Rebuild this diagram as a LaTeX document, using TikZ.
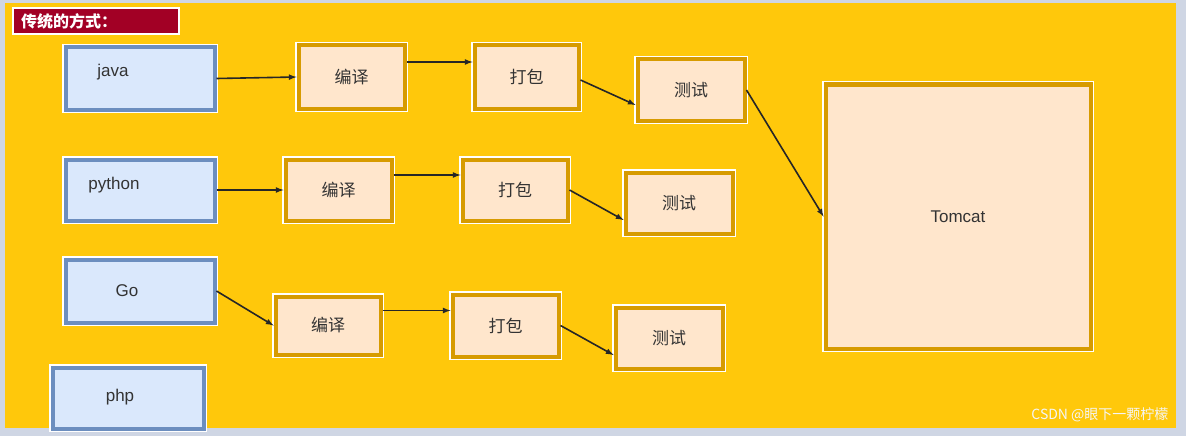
\documentclass[tikz,border=0pt]{standalone}
\usepackage{fontspec}
\setmainfont{Liberation Sans}
\newfontfamily\cjk{Noto Sans CJK SC}
\begin{document}
\begin{tikzpicture}[x=1pt,y=-1pt,
  bx/.style={preaction={draw=white,line width=7pt},line width=4pt,inner sep=0pt,font=\cjk\fontsize{17}{20}\selectfont,text=black!80},
  blue/.style={bx,draw=blue!25!gray!70!cyan!60!white,fill=blue!10!white},
  org/.style={bx,draw=orange!80!yellow!85!black,fill=orange!18!white},
  lbl/.style={font=\fontsize{17}{20}\selectfont,text=black!80},
  arr/.style={-latex,line width=1.6pt,black!85}]
\definecolor{bg}{HTML}{CFD6E4}
\definecolor{yel}{HTML}{FFC80B}
\definecolor{bl}{HTML}{6C8EBF}
\definecolor{blf}{HTML}{DAE8FC}
\definecolor{or}{HTML}{D79B00}
\definecolor{orf}{HTML}{FFE6CC}
\definecolor{red}{HTML}{A20025}
\tikzset{blue/.style={bx,draw=bl,fill=blf},org/.style={bx,draw=or,fill=orf}}
\useasboundingbox (0,0) rectangle (1186,436);
\fill[bg] (0,0) rectangle (1186,436);
\fill[yel] (5,3) rectangle (1176,428);
\node[draw=white,line width=1.5pt,fill=red,minimum width=166pt,minimum height=26pt,inner sep=0pt,text=white,font=\cjk\bfseries\fontsize{16}{18}\selectfont,text width=150pt,align=left] (title) at (96,21) {传统的方式：};
% language boxes
\node[blue,minimum width=149pt,minimum height=62pt] (java) at (140,78.5) {};
\node[lbl] (tj) at (113,72) {java};
\node[blue,minimum width=149pt,minimum height=61pt] (py) at (140,190) {};
\node[lbl] (tp) at (114,185) {python};
\node[blue,minimum width=149pt,minimum height=63pt] (go) at (140,291) {};
\node[lbl] (tg) at (127,291) {Go};
\node[blue,minimum width=151pt,minimum height=61pt] (php) at (128,398) {};
\node[lbl] (tphp) at (120,397) {php};
% row 1
\node[org,minimum width=106pt,minimum height=63pt] (c1) at (351.5,77) {编译};
\node[org,minimum width=104pt,minimum height=63pt] (p1) at (526.5,77) {打包};
\node[org,minimum width=107pt,minimum height=61pt] (t1) at (691,90) {测试};
% row 2
\node[org,minimum width=106pt,minimum height=61pt] (c2) at (338.5,190) {编译};
\node[org,minimum width=105pt,minimum height=61pt] (p2) at (515,190) {打包};
\node[org,minimum width=107pt,minimum height=61pt] (t2) at (679,203) {测试};
% row 3
\node[org,minimum width=105pt,minimum height=58pt] (c3) at (328,325.5) {编译};
\node[org,minimum width=106pt,minimum height=62pt] (p3) at (505.5,325.5) {打包};
\node[org,minimum width=107pt,minimum height=61pt] (t3) at (669,338) {测试};
% tomcat
\node[org,minimum width=265pt,minimum height=264pt,font=\fontsize{17}{20}\selectfont] (tom) at (958,216.5) {Tomcat};
% arrows
\draw[arr] (java.east) -- (c1.west);
\draw[arr] ([yshift=15pt]c1.east) -- ([yshift=15pt]p1.west);
\draw[arr] ([yshift=-3pt]p1.east) -- ([yshift=-15pt]t1.west);
\draw[arr] (t1.east) -- (tom.west);
\draw[arr] (py.east) -- (c2.west);
\draw[arr] ([yshift=15pt]c2.east) -- ([yshift=15pt]p2.west);
\draw[arr] (p2.east) -- ([yshift=-17pt]t2.west);
\draw[arr] (go.east) -- (c3.west);
\draw[arr] ([yshift=15pt]c3.east) -- ([yshift=15pt]p3.west);
\draw[arr] (p3.east) -- ([yshift=-17pt]t3.west);
\node[font=\cjk\fontsize{14}{16}\selectfont,text=white!92!gray,anchor=east] (wm) at (1172,415) {CSDN @眼下一颗柠檬};
\end{tikzpicture}
\end{document}
